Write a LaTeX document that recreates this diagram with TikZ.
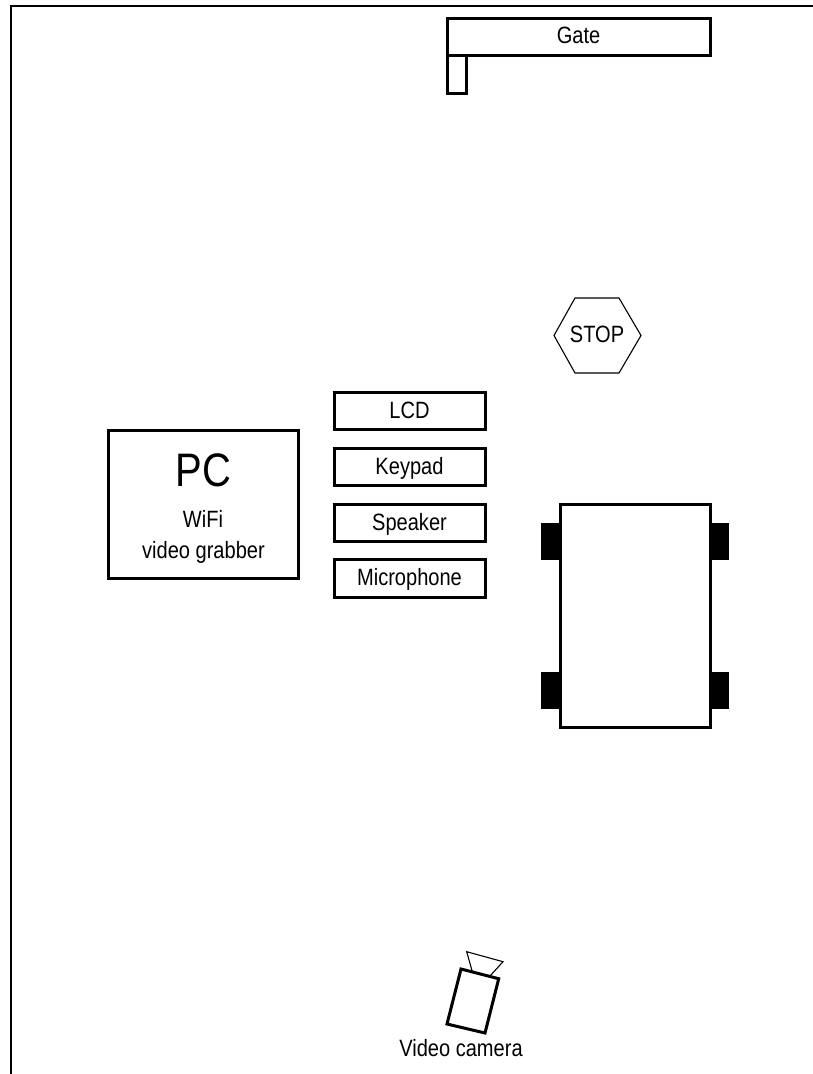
\documentclass[tikz,border=0pt]{standalone}
\usepackage{fontspec}
\setmainfont[FakeStretch=0.85]{Liberation Sans}
\newcommand{\fs}[1]{\fontsize{#1}{#1}\selectfont}
\tikzset{
  x=1pt,y=-1pt,
  heavy/.style={draw=black,line width=3pt,line join=miter},
  thin line/.style={draw=black,line width=1.1pt,line join=miter},
  lbl/.style={font=\fs{23.6},text=black,inner sep=0pt},
}
\begin{document}
\begin{tikzpicture}
\useasboundingbox (0,0) rectangle (813,1074);
\fill[white] (0,0) rectangle (813,1074);
% frame
\coordinate (ftr) at (813,6);
\coordinate (fc) at (11,6);
\coordinate (fbl) at (11,1074);
\draw[line width=2.4pt] (ftr) -- (fc) -- (fbl);
% gate
\draw[heavy,fill=white] (447,55) rectangle (466,93);
\draw[heavy,fill=white] (447,18) rectangle (710,55);
\node[lbl] (gate) at (578.5,35) {Gate};
% stop
\draw[thin line] (554,335.5) -- (575,298) -- (619,298) -- (641,335.5) -- (619,373) -- (575,373) -- cycle;
\node[lbl] (stop) at (597,334.5) {STOP};
% PC
\draw[heavy] (108,430) rectangle (298,578);
\node[font=\fs{47},inner sep=0pt] (pc) at (203.5,470.5) {PC};
\node[lbl] (wifi) at (203,519) {WiFi};
\node[lbl] (grabber) at (203.5,552) {video grabber};
% panel
\draw[heavy] (334,392) rectangle (485,429);
\node[lbl] (lcd) at (409.5,410) {LCD};
\draw[heavy] (334,448) rectangle (485,485);
\node[lbl] (keypad) at (409.5,468) {Keypad};
\draw[heavy] (334,504) rectangle (485,541);
\node[lbl] (speaker) at (409.5,524.5) {Speaker};
\draw[heavy] (334,559) rectangle (485,597);
\node[lbl] (mic) at (409.5,579) {Microphone};
% car
\fill[black] (541,523) rectangle (560,560);
\fill[black] (541,672) rectangle (560,709);
\fill[black] (710,523) rectangle (729,560);
\fill[black] (710,672) rectangle (729,709);
\draw[heavy,fill=white] (560,504) rectangle (710,727);
% camera
\draw[thin line] (472.3,971.7) -- (466.7,951.7) -- (503,961.7) -- (490,976);
\draw[heavy] (461,969) -- (498.7,978.7) -- (485,1033) -- (447,1024) -- cycle;
\node[lbl] (cam) at (461,1048.5) {Video camera};
\end{tikzpicture}
\end{document}
